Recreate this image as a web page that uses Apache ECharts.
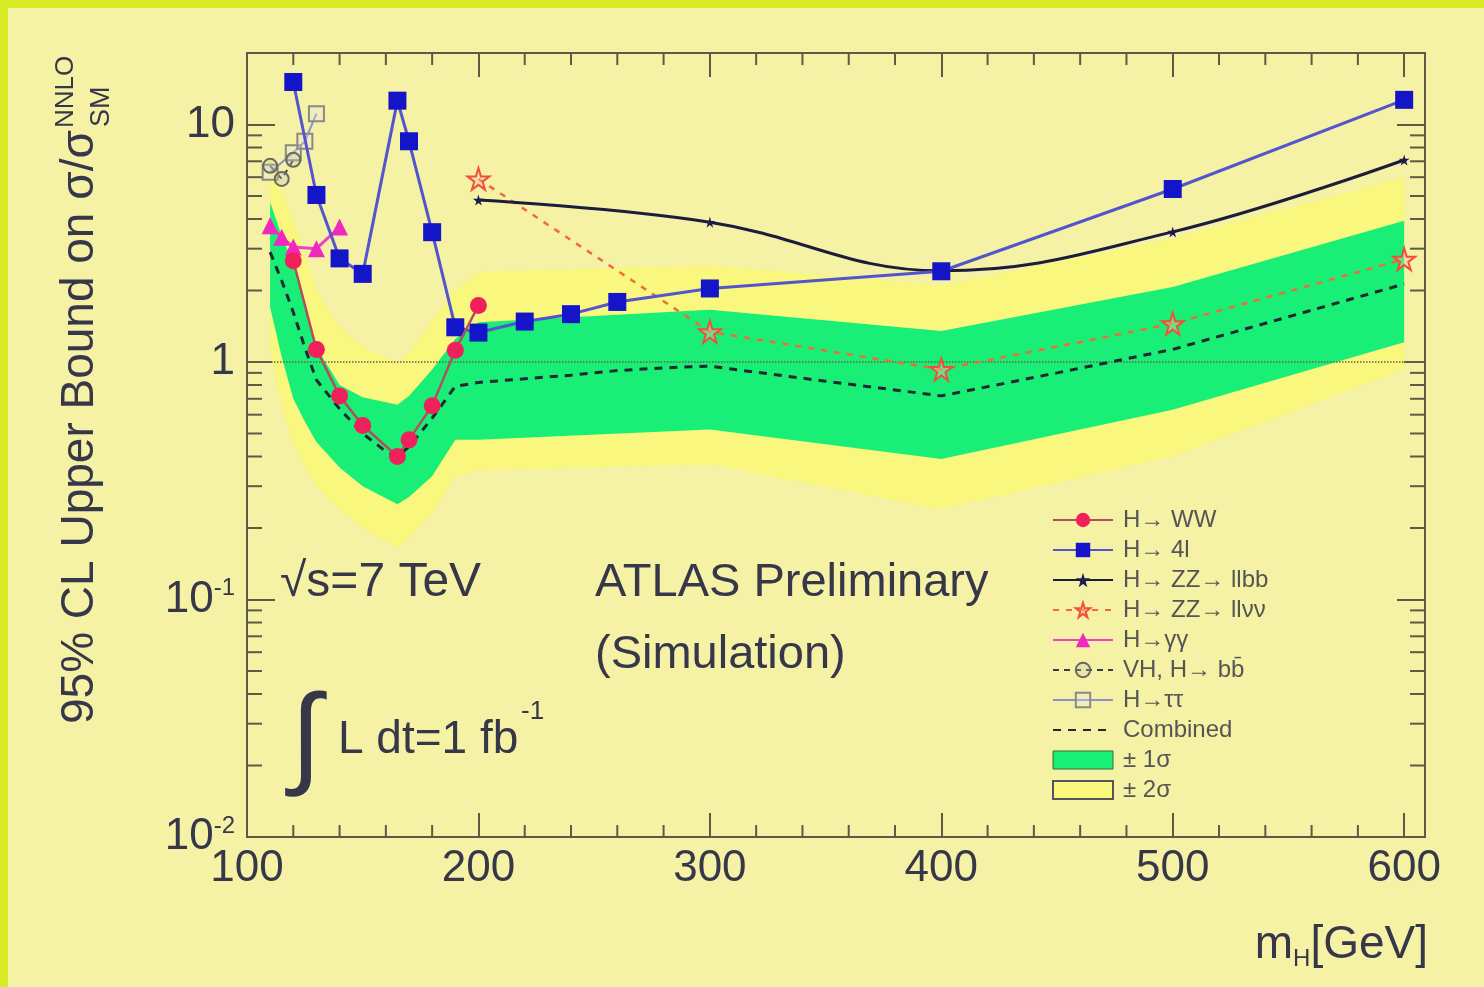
<!DOCTYPE html>
<html><head><meta charset="utf-8">
<script src="https://cdn.jsdelivr.net/npm/echarts@6/dist/echarts.min.js"></script>
<style>html,body{margin:0;padding:0;background:#f5f1a5;} #c{width:1484px;height:987px;}</style>
</head><body><div id="c"></div>
<script>
// ---------------- data ----------------
const massWW = [120, 130, 140, 150, 165, 170, 180, 190, 200];
const valWW  = [2.67, 1.13, 0.72, 0.54, 0.40, 0.47, 0.655, 1.12, 1.73];

const mass4l = [120, 130, 140, 150, 165, 170, 180, 190, 200, 220, 240, 260, 300, 400, 500, 600];
const val4l  = [15.1, 5.05, 2.73, 2.35, 12.6, 8.5, 3.52, 1.40, 1.33, 1.48, 1.59, 1.79, 2.04, 2.41, 5.35, 12.7];

const massLLBB = [200, 300, 400, 500, 600];
const valLLBB  = [4.81, 3.88, 2.42, 3.53, 7.09];

const massLLVV = [200, 300, 400, 500, 600];
const valLLVV  = [5.9, 1.34, 0.93, 1.45, 2.71];

const massGG = [110, 115, 120, 130, 140];
const valGG  = [3.75, 3.35, 3.05, 3.0, 3.7];

const massBB = [110, 115, 120];
const valBB  = [6.7, 5.9, 7.1];

const massTT = [110, 120, 125, 130];
const valTT  = [6.3, 7.6, 8.5, 11.1];

const massComb = [110, 115, 120, 125, 130, 140, 150, 160, 165, 170, 180, 190, 200, 220, 240, 260, 280, 300, 350, 400, 450, 500, 550, 600];
const valComb  = [2.9, 2.2, 1.62, 1.15, 0.84, 0.635, 0.50, 0.42, 0.40, 0.44, 0.58, 0.79, 0.82, 0.85, 0.88, 0.92, 0.945, 0.96, 0.83, 0.72, 0.90, 1.13, 1.55, 2.13];

const massBand = [110, 115, 120, 125, 130, 140, 150, 165, 170, 180, 190, 200, 300, 400, 500, 600];
const sig1Up   = [4.7, 3.4, 2.6, 1.75, 1.15, 0.80, 0.71, 0.66, 0.72, 0.93, 1.25, 1.47, 1.66, 1.35, 2.07, 3.93];
const sig1Lo   = [1.7, 1.05, 0.70, 0.56, 0.46, 0.36, 0.30, 0.252, 0.27, 0.33, 0.47, 0.47, 0.52, 0.39, 0.63, 1.21];
const sig2Up   = [7.5, 5.2, 4.0, 2.8, 2.0, 1.4, 1.15, 1.0, 1.1, 1.5, 2.0, 2.4, 2.55, 2.1, 3.3, 6.0];
const sig2Lo   = [1.1, 0.65, 0.45, 0.36, 0.30, 0.24, 0.20, 0.165, 0.18, 0.23, 0.33, 0.35, 0.37, 0.24, 0.40, 0.93];

const xMajorTicks = [100, 200, 300, 400, 500, 600];
const xMinorTicks = [120, 140, 160, 180, 220, 240, 260, 280, 320, 340, 360, 380, 420, 440, 460, 480, 520, 540, 560, 580];
const yMinorTicks = [0.02, 0.03, 0.04, 0.05, 0.06, 0.07, 0.08, 0.09, 0.2, 0.3, 0.4, 0.5, 0.6, 0.7, 0.8, 0.9, 2, 3, 4, 5, 6, 7, 8, 9];

const legendNames = ['H\u2192 WW', 'H\u2192 4l', 'H\u2192 ZZ\u2192 llbb', 'H\u2192 ZZ\u2192 ll\u03bd\u03bd', 'H\u2192\u03b3\u03b3', 'VH, H\u2192 bb\u0304', 'H\u2192\u03c4\u03c4', 'Combined', '\u00b1 1\u03c3', '\u00b1 2\u03c3'];

// ---------------- chart ----------------
const X_MIN = 100, X_MAX = 609, Y_MIN = 0.01, Y_MAX = 20;
const FONT = "'Liberation Sans', Arial, Helvetica, sans-serif";
const TXT = '#37374a';
const AX = '#5e5a45';
const YEL = '#f9f77e';
const GRN = '#19ef77';
const STAR = 'path://M50,0 L61,35 L98,35 L68,57 L79,91 L50,70 L21,91 L32,57 L2,35 L39,35 Z';
function pairs(xs, ys) { return xs.map((x, i) => [x, ys[i]]); }

function band(name, lo, hi, color, z) {
  return {
    type: 'custom', name: name, z: z, silent: true,
    itemStyle: { color: color },
    data: [[massBand[0], hi[0]]],
    renderItem: function (params, api) {
      const pts = [];
      for (let i = 0; i < massBand.length; i++) pts.push(api.coord([massBand[i], hi[i]]));
      for (let i = massBand.length - 1; i >= 0; i--) pts.push(api.coord([massBand[i], lo[i]]));
      return { type: 'polygon', shape: { points: pts }, style: { fill: color } };
    }
  };
}

const chart = echarts.init(document.getElementById('c'), null, { renderer: 'canvas' });

const yLabelFmt = function (v) {
  const e = Math.round(Math.log10(v));
  if (e === 1) return '10';
  if (e === 0) return '1';
  return '10{s|' + e + '}';
};

const xAxisBase = {
  type: 'value', min: X_MIN, max: X_MAX, interval: 100,
  axisLine: { show: true, lineStyle: { color: AX, width: 2 } },
  axisTick: { show: true, inside: true, length: 24, lineStyle: { color: AX, width: 2 } },
  splitLine: { show: false }
};
const yAxisBase = {
  type: 'log', logBase: 10, min: Y_MIN, max: Y_MAX,
  axisLine: { show: true, lineStyle: { color: AX, width: 2 } },
  axisTick: { show: true, inside: true, length: 28, lineStyle: { color: AX, width: 2 } },
  splitLine: { show: false }
};

const option = {
  animation: false,
  backgroundColor: '#f5f1a5',
  grid: { left: 247, right: 59, top: 53, bottom: 150, show: true, borderColor: AX, borderWidth: 2, backgroundColor: 'transparent' },
  xAxis: [
    Object.assign({}, xAxisBase, {
      position: 'bottom',
      axisLabel: { show: true, fontFamily: FONT, fontSize: 44, color: TXT, margin: 10, showMaxLabel: false,
        formatter: v => (xMajorTicks.indexOf(v) >= 0 ? String(v) : '') }
    }),
    Object.assign({}, xAxisBase, { position: 'top', axisLabel: { show: false } })
  ],
  yAxis: [
    Object.assign({}, yAxisBase, {
      position: 'left',
      axisLabel: { show: true, fontFamily: FONT, fontSize: 44, color: TXT, margin: 12, showMaxLabel: false,
        formatter: yLabelFmt,
        rich: { s: { fontFamily: FONT, fontSize: 24, color: TXT, verticalAlign: 'top', lineHeight: 46 } } }
    }),
    Object.assign({}, yAxisBase, { position: 'right', axisLabel: { show: false } })
  ],
  legend: {
    orient: 'vertical', left: 1047, top: 503, itemWidth: 60, itemHeight: 18, itemGap: 6,
    selectedMode: false,
    textStyle: { fontFamily: FONT, fontSize: 24, color: '#555555', padding: [0, 0, 0, 5] },
    data: legendNames.slice(0, 7).map(n => ({ name: n })).concat([
      { name: legendNames[7], itemStyle: { opacity: 0, color: 'rgba(0,0,0,0)', borderWidth: 0 } },
      { name: legendNames[8], icon: 'rect', itemStyle: { color: GRN, borderColor: '#3a6a3a', borderWidth: 1 } },
      { name: legendNames[9], icon: 'rect', itemStyle: { color: YEL, borderColor: '#555555', borderWidth: 2 } }
    ])
  },
  graphic: [
    { type: 'rect', shape: { x: 0, y: 0, width: 1484, height: 8 }, style: { fill: '#d6ea26' }, z: -1 },
    { type: 'rect', shape: { x: 0, y: 0, width: 8, height: 987 }, style: { fill: '#d6ea26' }, z: -1 },
    { type: 'text', x: 80, y: 724, rotation: Math.PI / 2, style: { text: '95% CL Upper Bound on \u03c3/\u03c3', font: '46px ' + FONT, fill: TXT, textAlign: 'left', textVerticalAlign: 'middle' } },
    { type: 'text', x: 102, y: 127, rotation: Math.PI / 2, style: { text: 'SM', font: '27px ' + FONT, fill: TXT, textAlign: 'left', textVerticalAlign: 'middle' } },
    { type: 'text', x: 66, y: 128, rotation: Math.PI / 2, style: { text: 'NNLO', font: '26px ' + FONT, fill: TXT, textAlign: 'left', textVerticalAlign: 'middle' } },
    { type: 'text', x: 280, y: 583, style: { text: '\u221as=7 TeV', font: '48px ' + FONT, fill: TXT, textAlign: 'left', textVerticalAlign: 'middle' } },
    { type: 'text', x: 595, y: 583, style: { text: 'ATLAS Preliminary', font: '47px ' + FONT, fill: TXT, textAlign: 'left', textVerticalAlign: 'middle' } },
    { type: 'text', x: 595, y: 655, style: { text: '(Simulation)', font: '47px ' + FONT, fill: TXT, textAlign: 'left', textVerticalAlign: 'middle' } },
    { type: 'text', x: 306, y: 742, style: { text: '\u222b', font: '112px ' + FONT, fill: TXT, textAlign: 'center', textVerticalAlign: 'middle' } },
    { type: 'text', x: 338, y: 740, style: { text: 'L dt=1 fb', font: '46px ' + FONT, fill: TXT, textAlign: 'left', textVerticalAlign: 'middle' } },
    { type: 'text', x: 521, y: 712, style: { text: '-1', font: '26px ' + FONT, fill: TXT, textAlign: 'left', textVerticalAlign: 'middle' } },
    { type: 'text', x: 1428, y: 945, style: { text: 'm{sub|H}[GeV]', font: '46px ' + FONT, fill: TXT, textAlign: 'right', textVerticalAlign: 'middle',
        rich: { sub: { fontFamily: FONT, fontSize: 24, fill: TXT, verticalAlign: 'bottom', lineHeight: 52 } } } }
  ],
  series: [
    band(legendNames[9], sig2Lo, sig2Up, YEL, 1),
    band(legendNames[8], sig1Lo, sig1Up, GRN, 2),
    {
      type: 'custom', silent: true, z: 20,
      data: yMinorTicks.map(v => [X_MIN, v]),
      renderItem: function (params, api) {
        const v = api.value(1);
        const l = api.coord([X_MIN, v]);
        const r = api.coord([X_MAX, v]);
        return { type: 'group', children: [
          { type: 'line', shape: { x1: l[0], y1: l[1], x2: l[0] + 15, y2: l[1] }, style: { stroke: AX, lineWidth: 2 } },
          { type: 'line', shape: { x1: r[0], y1: r[1], x2: r[0] - 15, y2: r[1] }, style: { stroke: AX, lineWidth: 2 } }
        ] };
      }
    },
    {
      type: 'custom', silent: true, z: 20,
      data: xMinorTicks.map(v => [v, Y_MIN]),
      renderItem: function (params, api) {
        const x = api.value(0);
        const b = api.coord([x, Y_MIN]);
        const t = api.coord([x, Y_MAX]);
        return { type: 'group', children: [
          { type: 'line', shape: { x1: b[0], y1: b[1], x2: b[0], y2: b[1] - 12 }, style: { stroke: AX, lineWidth: 2 } },
          { type: 'line', shape: { x1: t[0], y1: t[1], x2: t[0], y2: t[1] + 12 }, style: { stroke: AX, lineWidth: 2 } }
        ] };
      }
    },
    {
      name: legendNames[7], type: 'line', z: 5, data: pairs(massComb, valComb), symbol: 'none',
      lineStyle: { color: '#1e2a30', width: 3, type: [8, 7] }, itemStyle: { color: '#1e2a30' },
      markLine: { silent: true, symbol: ['none', 'none'], label: { show: false },
        lineStyle: { color: '#6a6440', width: 1.5, type: 'dotted' }, data: [{ yAxis: 1 }] }
    },
    {
      name: legendNames[6], type: 'line', z: 6, data: pairs(massTT, valTT), symbol: 'rect', symbolSize: 15,
      lineStyle: { color: '#8e8ed6', width: 2 }, itemStyle: { color: 'rgba(230,230,240,0.3)', borderColor: '#8a8a80', borderWidth: 2 }
    },
    {
      name: legendNames[5], type: 'line', z: 6, data: pairs(massBB, valBB), symbol: 'circle', symbolSize: 14,
      lineStyle: { color: '#3a3a50', width: 2, type: [6, 5] }, itemStyle: { color: 'rgba(200,200,180,0.3)', borderColor: '#6a6a5a', borderWidth: 2 }
    },
    {
      name: legendNames[4], type: 'line', z: 7, data: pairs(massGG, valGG), symbol: 'triangle', symbolSize: 17,
      lineStyle: { color: '#f040c8', width: 3 }, itemStyle: { color: '#f028c0' }
    },
    {
      name: legendNames[3], type: 'line', z: 7, data: pairs(massLLVV, valLLVV), symbol: STAR, symbolSize: 22,
      lineStyle: { color: '#f06a3c', width: 2.5, type: [6, 7] }, itemStyle: { color: 'rgba(255,190,170,0.4)', borderColor: '#f0503a', borderWidth: 2 }
    },
    {
      name: legendNames[2], type: 'line', z: 8, data: pairs(massLLBB, valLLBB), symbol: STAR, symbolSize: 11, smooth: 0.4,
      lineStyle: { color: '#1c1c3c', width: 3 }, itemStyle: { color: '#1c1c4c' }
    },
    {
      name: legendNames[1], type: 'line', z: 9, data: pairs(mass4l, val4l), symbol: 'rect', symbolSize: 18,
      lineStyle: { color: '#5454cc', width: 3 }, itemStyle: { color: '#1414c8' }
    },
    {
      name: legendNames[0], type: 'line', z: 10, data: pairs(massWW, valWW), symbol: 'circle', symbolSize: 17,
      lineStyle: { color: '#b0505e', width: 2.5 }, itemStyle: { color: '#f0205a' }
    }
  ]
};
chart.setOption(option);
</script>
</body></html>
